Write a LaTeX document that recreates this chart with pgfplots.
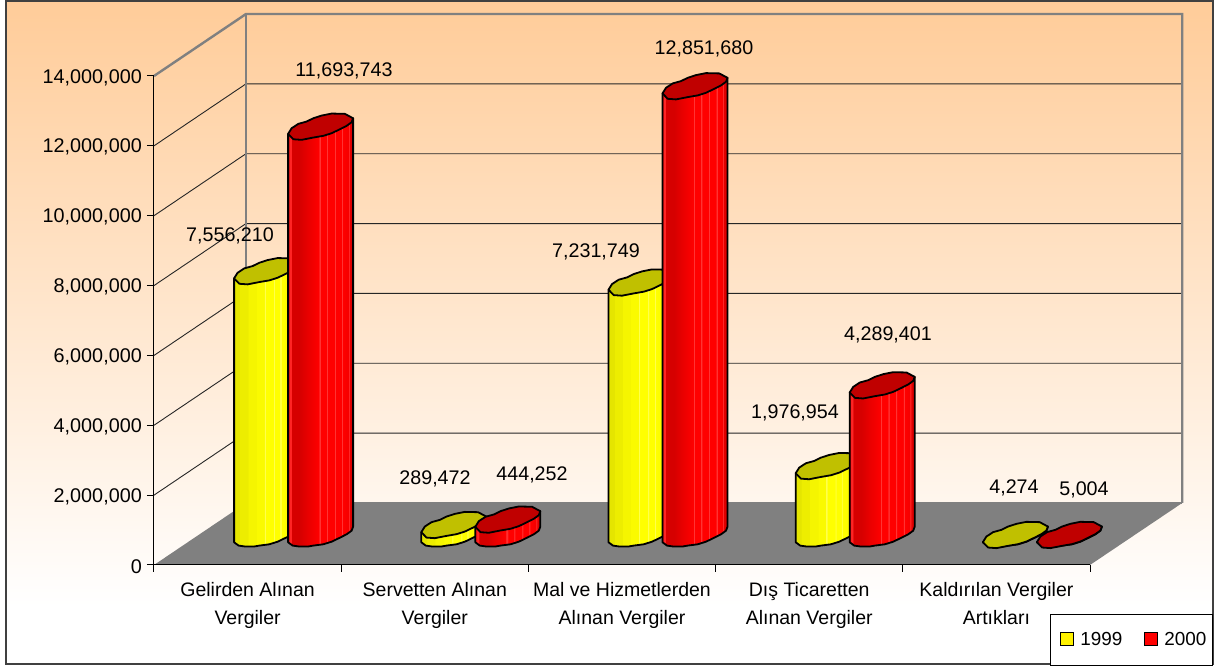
\documentclass[border=0pt]{standalone}
\usepackage{pgfplots}
\pgfplotsset{compat=1.18}
\usepackage{fontspec}
\setmainfont{Liberation Sans}
\usetikzlibrary{plotmarks}

\definecolor{peach}{RGB}{255,204,153}
\definecolor{gridgray}{RGB}{128,128,128}
\definecolor{capY}{RGB}{192,192,0}
\definecolor{capR}{RGB}{192,0,0}

\pgfdeclarehorizontalshading{redcyl}{100bp}{
 rgb(0bp)=(.86,0,0); rgb(25bp)=(.86,0,0);
 rgb(26bp)=(1,.14,.14); rgb(27.4bp)=(1,.14,.14); rgb(27.6bp)=(.84,0,0);
 rgb(34bp)=(.84,0,0); rgb(40bp)=(.91,0,0); rgb(47bp)=(.98,0,0);
 rgb(48.7bp)=(1,0,0); rgb(48.8bp)=(1,.2,.2); rgb(49.6bp)=(1,.2,.2); rgb(49.7bp)=(1,0,0);
 rgb(54.4bp)=(1,0,0); rgb(54.5bp)=(1,.2,.2); rgb(55.3bp)=(1,.2,.2); rgb(55.4bp)=(1,0,0);
 rgb(60.4bp)=(1,0,0); rgb(60.5bp)=(1,.2,.2); rgb(61.3bp)=(1,.2,.2); rgb(61.4bp)=(1,0,0);
 rgb(66.1bp)=(1,0,0); rgb(66.2bp)=(1,.2,.2); rgb(67bp)=(1,.2,.2); rgb(67.1bp)=(1,0,0);
 rgb(71.2bp)=(.96,0,0); rgb(71.3bp)=(1,.15,.15); rgb(72bp)=(1,.15,.15); rgb(72.1bp)=(.88,0,0);
 rgb(75bp)=(.86,0,0); rgb(100bp)=(.86,0,0)}
\pgfdeclarehorizontalshading{yelcyl}{100bp}{
 rgb(0bp)=(.9,.9,0); rgb(25bp)=(.9,.9,0); rgb(29.3bp)=(.9,.9,0);
 rgb(29.4bp)=(.93,.93,0); rgb(35.7bp)=(.93,.93,0);
 rgb(35.8bp)=(.96,.96,0); rgb(42.1bp)=(.96,.96,0);
 rgb(42.2bp)=(.98,.98,0); rgb(48.1bp)=(.98,.98,0);
 rgb(48.2bp)=(1,1,.3); rgb(49bp)=(1,1,.3); rgb(49.1bp)=(1,1,0);
 rgb(55.1bp)=(1,1,0); rgb(55.2bp)=(1,1,.3); rgb(56bp)=(1,1,.3); rgb(56.1bp)=(1,1,0);
 rgb(60.2bp)=(1,1,0); rgb(60.3bp)=(1,1,.3); rgb(61.1bp)=(1,1,.3); rgb(61.2bp)=(1,1,0);
 rgb(70bp)=(.97,.97,0); rgb(75bp)=(.92,.92,0); rgb(100bp)=(.92,.92,0)}

% cylinder drawn at the data point; its height comes from the value of that point
\newcommand{\cylinder}[2]{%
 \edef\h{\fpeval{\rawy*489/14000000}}%
 \begin{scope}[x=1pt,y=1pt,line width=1.8pt,line join=round,draw=black]
 \path[draw,shading=#1] (-32.5,-7.3)--(-32.5,-7.3-\h)--(-28,-10.6-\h)--(-21,-11.6-\h)--(-13,-11.6-\h)--(-7.3,-10.6-\h)--(2.7,-9.3-\h)--(11,-6.7-\h)--(19.3,-2.7-\h)--(26,.7-\h)--(31,4.3-\h)--(32.5,8.3-\h)--(32.5,8.3)--cycle;
 \path[draw,fill=#2] (-32.5,-7.3)--(-29,-1.7)--(-22.3,2.7)--(-14,5)--(-7.3,8.3)--(1,11)--(11,13)--(24.3,12.7)--(32.5,8.3)--(31,4.3)--(26,.7)--(19.3,-2.7)--(11,-6.7)--(2.7,-9.3)--(-7.3,-11)--(-19,-13.3)--(-27.3,-12.7)--cycle;
 \end{scope}}
\pgfdeclareplotmark{cylY}{\cylinder{yelcyl}{capY}}
\pgfdeclareplotmark{cylR}{\cylinder{redcyl}{capR}}

\newcommand{\lab}[3]{\node[inner sep=0pt,font=\fontsize{19.7}{23}\selectfont] at (#1pt,{(666-#2)*1pt}) {#3};}

\begin{document}
\begin{tikzpicture}
\useasboundingbox (0pt,0pt) rectangle (1219pt,666pt);
% chart area
\fill[white] (0pt,0pt) rectangle (1219pt,666pt);
\shade[top color=peach,bottom color=white,shading angle=0] (6pt,60pt) rectangle (1213pt,665pt);
\draw[line width=2pt,black!75] (6pt,2pt) rectangle (1213pt,665pt);

\begin{axis}[
  at={(154pt,101pt)},anchor=south west,
  scale only axis,width=936pt,height=489pt,
  xmin=0,xmax=5,ymin=0,ymax=14000000,
  clip=false,axis on top,
  axis x line*=bottom,axis y line*=left,
  axis line style={-,line width=1pt,black},
  xtick={0,1,2,3,4,5},
  x tick label as interval,
  xticklabels={{Gelirden Alınan\\Vergiler},{Servetten Alınan\\Vergiler},{Mal ve Hizmetlerden\\Alınan Vergiler},{Dış Ticaretten\\Alınan Vergiler},{Kaldırılan Vergiler\\Artıkları}},
  xticklabel style={align=center,font=\fontsize{19.5}{28}\selectfont,inner sep=0pt,yshift=-10pt},
  ytick={0,2000000,4000000,6000000,8000000,10000000,12000000,14000000},
  scaled y ticks=false,
  yticklabel style={font=\fontsize{19.8}{23}\selectfont,inner sep=0pt,xshift=-5pt,yshift=-1.5pt,
    /pgf/number format/.cd,fixed,1000 sep={,},assume math mode=true},
  tick style={black,line width=1pt},
  major tick length=7pt,tick align=outside,
]
% floor
\addplot[forget plot,fill=gridgray,draw=none] coordinates {(0,0) (0.4915,1775000) (5.4925,1775000) (5,0)} --cycle;
% grid on the side wall and the back wall
\addplot[forget plot,black!85,line width=.9pt] coordinates {(0,2000000) (0.4915,3775000) (5.4925,3775000)};
\addplot[forget plot,black!85,line width=.9pt] coordinates {(0,4000000) (0.4915,5775000) (5.4925,5775000)};
\addplot[forget plot,black!85,line width=.9pt] coordinates {(0,6000000) (0.4915,7775000) (5.4925,7775000)};
\addplot[forget plot,black!85,line width=.9pt] coordinates {(0,8000000) (0.4915,9775000) (5.4925,9775000)};
\addplot[forget plot,black!85,line width=.9pt] coordinates {(0,10000000) (0.4915,11775000) (5.4925,11775000)};
\addplot[forget plot,black!85,line width=.9pt] coordinates {(0,12000000) (0.4915,13775000) (5.4925,13775000)};
% wall frame
\addplot[forget plot,gridgray,line width=2.4pt] coordinates {(0,14000000) (0.4915,15775000) (5.4925,15775000) (5.4925,1775000)};
\addplot[forget plot,gridgray,line width=2.4pt] coordinates {(0.4915,15775000) (0.4915,1775000)};
\addplot[forget plot,gridgray,line width=2pt] coordinates {(0.4915,1775000) (5.4925,1775000)};
\end{axis}

\begin{axis}[
  at={(200pt,131pt)},anchor=south west,
  scale only axis,width=936pt,height=489pt,
  xmin=0,xmax=5,ymin=0,ymax=14000000,
  clip=false,hide axis,
  legend columns=2,
  legend style={at={(0.908,-0.1616)},anchor=north west,draw=black,line width=1pt,fill=white,
    font=\fontsize{18.9}{22}\selectfont,inner xsep=4pt,inner ysep=16pt,
    /tikz/every odd column/.append style={column sep=4pt},
    /tikz/every even column/.append style={column sep=14pt}},
  legend image code/.code={\path (0pt,0pt); \draw[#1,line width=1pt] (6pt,-6pt) rectangle (19pt,7pt);},
]
\addlegendimage{fill=yellow,draw=black}
\addlegendentry{1999}
\addlegendimage{fill=red,draw=black}
\addlegendentry{2000}
\addplot[forget plot,scatter,only marks,mark=cylY,scatter src=y,visualization depends on={rawy \as \rawy},xshift=-27pt] coordinates {
 (0.5,7556210) (1.5,289472) (2.5,7231749) (3.5,1976954) (4.5,4274)};
\addplot[forget plot,scatter,only marks,mark=cylR,scatter src=y,visualization depends on={rawy \as \rawy},xshift=27pt] coordinates {
 (0.5,11693743) (1.5,444252) (2.5,12851680) (3.5,4289401) (4.5,5004)};
\end{axis}

\lab{230}{236}{7,556,210}
\lab{344}{71}{11,693,743}
\lab{435}{479}{289,472}
\lab{532}{475}{444,252}
\lab{596}{252}{7,231,749}
\lab{704}{49}{12,851,680}
\lab{795}{413}{1,976,954}
\lab{888}{335}{4,289,401}
\lab{1014}{488}{4,274}
\lab{1084}{490}{5,004}
\end{tikzpicture}
\end{document}
